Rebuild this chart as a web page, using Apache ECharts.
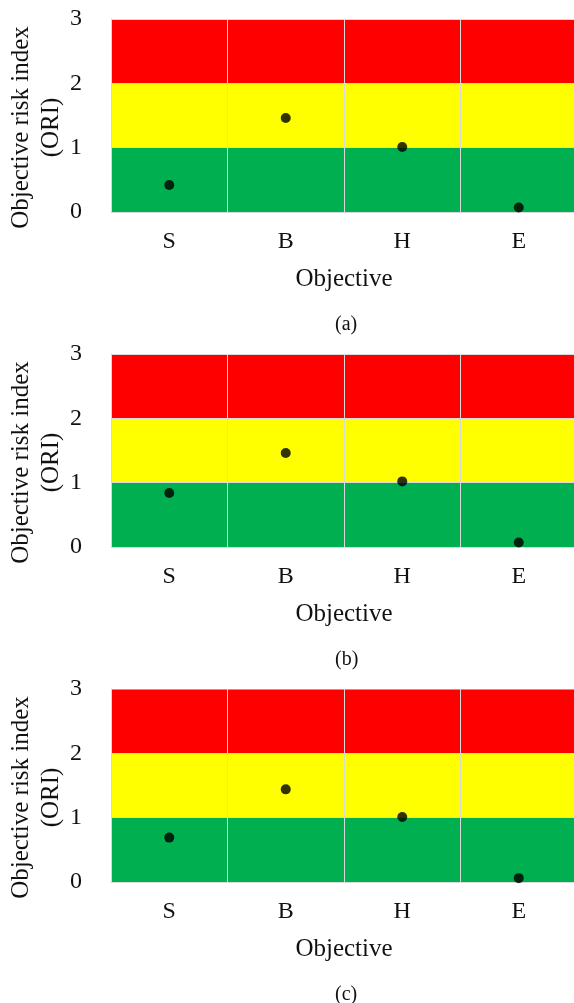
<!DOCTYPE html>
<html>
<head>
<meta charset="utf-8">
<script src="https://cdn.jsdelivr.net/npm/echarts@6/dist/echarts.min.js"></script>
<style>
  html, body { margin: 0; padding: 0; background: #fff; }
  #chart { width: 574px; height: 1003px; }
</style>
</head>
<body>
<div id="chart"></div>
<script>
var objectives = ['S', 'B', 'H', 'E'];
var yTicks = [0, 1, 2, 3];
// ORI for each panel
var oriA = [0.42, 1.46, 1.01, 0.07];
var oriB = [0.84, 1.46, 1.02, 0.07];
var oriC = [0.69, 1.44, 1.01, 0.06];
var panelLabels = ['(a)', '(b)', '(c)'];
// risk bands: low / medium / high
var bandEdges = [0, 1, 2, 3];
var bandColors = ['#00b050', '#ffff00', '#ff0000'];

var font = 'Liberation Serif, Times New Roman, serif';
var panelTops = [19, 354, 689];
var plotH = 193;
var panels = [oriA, oriB, oriC];

var chart = echarts.init(document.getElementById('chart'));

var bands = [];
for (var i = 0; i < bandColors.length; i++) {
    bands.push([
        { yAxis: bandEdges[i], itemStyle: { color: bandColors[i], opacity: 1 } },
        { yAxis: bandEdges[i + 1] }
    ]);
}

var grids = [], xAxes = [], yAxes = [], series = [], titles = [];
panels.forEach(function (vals, k) {
    grids.push({
        left: 111, width: 466, top: panelTops[k], height: plotH,
        outerBoundsMode: 'none', containLabel: false
    });
    xAxes.push({
        type: 'category',
        gridIndex: k,
        data: objectives,
        boundaryGap: true,
        z: 3,
        name: 'Objective',
        nameLocation: 'middle',
        nameGap: 55,
        nameMoveOverlap: false,
        nameTextStyle: { fontFamily: font, fontSize: 25, color: '#111' },
        axisLine: { show: true, lineStyle: { color: '#d9d9d9', width: 1 } },
        axisTick: { show: false },
        axisLabel: { fontFamily: font, fontSize: 24, color: '#111', margin: 18 },
        splitLine: { show: true, lineStyle: { color: '#d9d9d9', width: 1 } }
    });
    yAxes.push({
        type: 'value',
        gridIndex: k,
        min: yTicks[0],
        max: yTicks[yTicks.length - 1],
        interval: 1,
        z: 3,
        name: 'Objective risk index\n(ORI)',
        nameLocation: 'middle',
        nameGap: 45,
        nameMoveOverlap: false,
        nameTextStyle: {
            fontFamily: font, fontSize: 25, color: '#111', lineHeight: 30,
            padding: [0, 24, 0, 0]
        },
        axisLine: { show: true, lineStyle: { color: '#d9d9d9' } },
        axisTick: { show: false },
        axisLabel: { fontFamily: font, fontSize: 24, color: '#111', margin: 29 },
        splitLine: {
            show: true,
            lineStyle: {
                color: k === 2 ? ['#d9d9d9', '#d9d9d9', '#d9d9d9', '#f08080'] : '#d9d9d9',
                width: 1
            }
        }
    });
    series.push({
        type: 'scatter',
        xAxisIndex: k,
        yAxisIndex: k,
        z: 1,
        silent: true,
        data: [],
        markArea: { silent: true, data: bands }
    });
    series.push({
        type: 'scatter',
        xAxisIndex: k,
        yAxisIndex: k,
        z: 5,
        symbolSize: 10,
        itemStyle: { color: '#000' },
        data: vals
    });
    titles.push({
        text: panelLabels[k],
        left: 330,
        top: panelTops[k] + 291,
        textStyle: { fontFamily: font, fontSize: 20, fontWeight: 'normal', color: '#111' }
    });
});

var option = {
    animation: false,
    title: titles,
    grid: grids,
    xAxis: xAxes,
    yAxis: yAxes,
    series: series
};
chart.setOption(option);
</script>
</body>
</html>
